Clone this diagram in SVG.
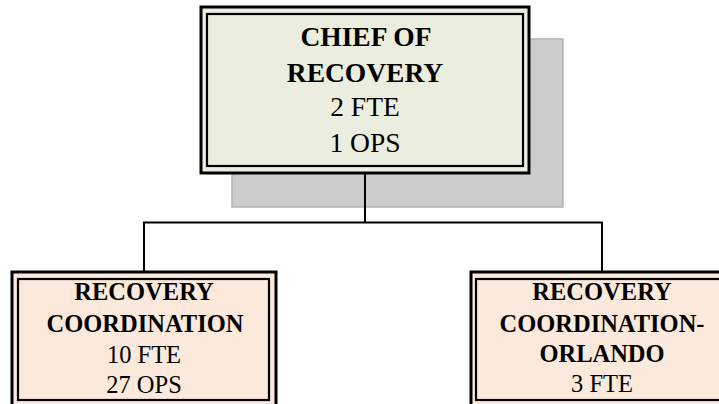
<svg xmlns="http://www.w3.org/2000/svg" width="719" height="404" viewBox="0 0 719 404">
<style>
.outer{fill:none;stroke:#000;stroke-width:3}
.inner{fill:none;stroke:#000;stroke-width:2.2}
.t{font-family:'Liberation Serif', Tinos, 'Times New Roman', Times, 'DejaVu Serif', serif;text-anchor:middle;fill:#000}
.b{font-weight:bold}
.conn{fill:none;stroke:#000;stroke-width:2}
</style>
<rect width="719" height="404" fill="#fff"/>
<g id="shadow">
<rect x="232" y="39" width="331" height="168" fill="#cccccc" stroke="#b4b4b4" stroke-width="1.5"/>
</g>
<g id="connectors">
<path class="conn" d="M365 173 V222.5 M144 222.5 H602 M144 221.5 V272 M602 221.5 V272"/>
</g>
<g id="chief">
<rect x="201" y="7" width="328" height="166" fill="#ebeedf"/>
<rect class="outer" x="201" y="7" width="328" height="166"/>
<rect class="inner" x="207" y="14" width="316" height="152"/>
<text class="t b" x="366" y="46" font-size="27.5">CHIEF OF</text>
<text class="t b" x="365" y="82" font-size="27.5">RECOVERY</text>
<text class="t" x="365" y="116" font-size="27.5">2 FTE</text>
<text class="t" x="365" y="152" font-size="27.5">1 OPS</text>
</g>
<g id="coord">
<rect x="12" y="272" width="264" height="134" fill="#fbe9dc"/>
<rect class="outer" x="12" y="272" width="264" height="134"/>
<rect class="inner" x="18" y="279" width="251" height="121"/>
<text class="t b" x="144" y="300" font-size="24.5">RECOVERY</text>
<text class="t b" x="145" y="332" font-size="24.5">COORDINATION</text>
<text class="t" x="144" y="363" font-size="24.5">10 FTE</text>
<text class="t" x="144" y="393" font-size="24.5">27 OPS</text>
</g>
<g id="orlando">
<rect x="471" y="272" width="262" height="134" fill="#fbe9dc"/>
<rect class="outer" x="471" y="272" width="262" height="134"/>
<rect class="inner" x="476" y="279" width="252" height="121"/>
<text class="t b" x="602" y="300" font-size="24.5">RECOVERY</text>
<text class="t b" x="602" y="332" font-size="24.5">COORDINATION-</text>
<text class="t b" x="602" y="362" font-size="24.5">ORLANDO</text>
<text class="t" x="602" y="392" font-size="24.5">3 FTE</text>
</g>
</svg>
